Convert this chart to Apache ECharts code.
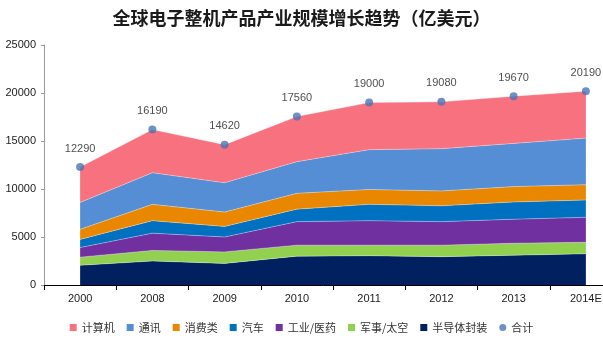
<!DOCTYPE html>
<html>
<head>
<meta charset="utf-8">
<script src="https://cdn.jsdelivr.net/npm/echarts@6/dist/echarts.min.js"></script>
<style>
  html, body { margin: 0; padding: 0; background: #fff; }
  #chart { width: 603px; height: 344px; }
</style>
</head>
<body>
<div id="chart"></div>
<script>
// Global electronics output by segment, in 100M USD
const years = ['2000', '2008', '2009', '2010', '2011', '2012', '2013', '2014E'];
const semiconductorPackaging = [2050, 2500, 2250, 3000, 3050, 2950, 3100, 3250];
const militarySpace = [850, 1100, 1200, 1150, 1100, 1200, 1250, 1200];
const industrialMedical = [1000, 1800, 1550, 2450, 2550, 2450, 2500, 2600];
const automotive = [850, 1300, 1100, 1300, 1700, 1650, 1800, 1800];
const consumer = [1050, 1700, 1500, 1650, 1550, 1550, 1600, 1600];
const communications = [2800, 3300, 3050, 3300, 4150, 4400, 4500, 4850];
const computers = [3690, 4490, 3970, 4710, 4900, 4880, 4920, 4890];
const totals = [12290, 16190, 14620, 17560, 19000, 19080, 19670, 20190];
const yTicks = { min: 0, max: 25000, interval: 5000 };

const font = '"Liberation Sans", "Noto Sans CJK SC", sans-serif';
const cjk = '"Noto Sans CJK SC", sans-serif';

function layer(name, data, color) {
  return {
    name, type: 'line', stack: 'total', data,
    showSymbol: false, symbol: 'none',
    lineStyle: { width: 0.6, color: 'rgba(255,255,255,0.55)' },
    areaStyle: { color, opacity: 1 },
    itemStyle: { color },
    emphasis: { disabled: true },
    z: 2
  };
}

const chart = echarts.init(document.getElementById('chart'), null, { renderer: 'canvas' });
chart.setOption({
  animation: false,
  title: {
    text: '全球电子整机产品产业规模增长趋势（亿美元）',
    left: 'center', top: 4,
    textStyle: { fontFamily: cjk, fontSize: 18, fontWeight: 'bold', color: '#1a1a1a' }
  },
  legend: {
    bottom: 6, left: 'center',
    itemWidth: 7, itemHeight: 7, itemGap: 12,
    textStyle: { fontFamily: cjk, fontSize: 11, color: '#333' },
    data: [
      { name: '计算机', icon: 'rect' },
      { name: '通讯', icon: 'rect' },
      { name: '消费类', icon: 'rect' },
      { name: '汽车', icon: 'rect' },
      { name: '工业/医药', icon: 'rect' },
      { name: '军事/太空', icon: 'rect' },
      { name: '半导体封装', icon: 'rect' },
      { name: '合计', icon: 'circle' }
    ]
  },
  grid: { left: 44, right: -19, top: 45, bottom: 59, outerBoundsMode: 'none', containLabel: false },
  xAxis: {
    type: 'category', data: years, boundaryGap: true,
    axisLine: { lineStyle: { color: '#000', width: 1 } },
    axisTick: { show: true, length: 5, lineStyle: { color: '#000' } },
    axisLabel: { fontFamily: font, fontSize: 11, color: '#222', margin: 8 }
  },
  yAxis: {
    type: 'value', min: yTicks.min, max: yTicks.max, interval: yTicks.interval,
    axisLine: { show: true, lineStyle: { color: '#999' } },
    axisTick: { show: true, length: 3, lineStyle: { color: '#999' } },
    splitLine: { show: false },
    axisLabel: { fontFamily: font, fontSize: 11, color: '#222', margin: 8, formatter: v => String(v) }
  },
  series: [
    layer('半导体封装', semiconductorPackaging, '#002060'),
    layer('军事/太空', militarySpace, '#92D050'),
    layer('工业/医药', industrialMedical, '#7030A0'),
    layer('汽车', automotive, '#0070C0'),
    layer('消费类', consumer, '#E98800'),
    layer('通讯', communications, '#558ED5'),
    layer('计算机', computers, '#F8717F'),
    {
      name: '合计', type: 'scatter', data: totals,
      symbolSize: 8,
      itemStyle: { color: '#4A76B5' },
      label: {
        show: true, position: 'top', distance: 9,
        fontFamily: font, fontSize: 11, color: '#222'
      },
      z: 5
    }
  ]
});
</script>
</body>
</html>
